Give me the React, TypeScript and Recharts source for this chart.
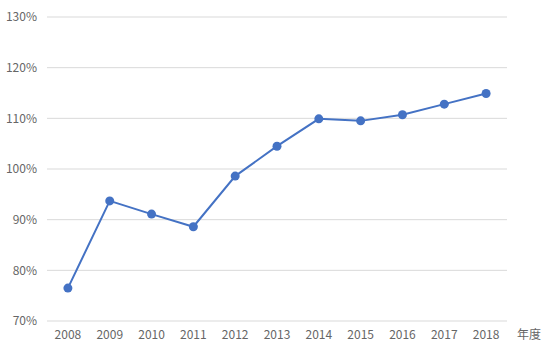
import { CartesianGrid, Label, Line, LineChart, XAxis, YAxis } from 'recharts'

const years = ['2008', '2009', '2010', '2011', '2012', '2013', '2014', '2015', '2016', '2017', '2018']
const ratio = [76.5, 93.7, 91.1, 88.6, 98.6, 104.5, 109.9, 109.5, 110.7, 112.8, 114.9]
const yTicks = [70, 80, 90, 100, 110, 120, 130]

const data = years.map((year, i) => ({ year, ratio: ratio[i] }))

const font = '"Noto Sans CJK JP", "Noto Sans", sans-serif'
const tickStyle = { fill: '#666666', fontSize: 12, fontFamily: font }

const App = () => {
  return (
    <div style={{ position: 'absolute', left: 0, top: 0, background: '#fff' }}>
      <LineChart
        width={550}
        height={353}
        data={data}
        margin={{ top: 17, right: 43, bottom: 12, left: 0 }}
      >
        <CartesianGrid vertical={false} stroke="#d9d9d9" />
        <XAxis
          dataKey="year"
          scale="band"
          axisLine={false}
          tickLine={false}
          tickSize={0}
          tickMargin={9}
          height={20}
          tick={tickStyle}
        >
          <Label
            value="年度"
            position="right"
            offset={10}
            style={{ fill: '#666666', fontSize: 12, fontFamily: font }}
            dy={4}
          />
        </XAxis>
        <YAxis
          domain={[70, 130]}
          ticks={yTicks}
          tickFormatter={(v) => `${v}%`}
          axisLine={false}
          tickLine={false}
          tickSize={0}
          tickMargin={10}
          width={47}
          tick={tickStyle}
        />
        <Line
          dataKey="ratio"
          type="linear"
          stroke="#4472C4"
          strokeWidth={2}
          dot={{ r: 4.5, fill: '#4472C4', stroke: '#4472C4', strokeWidth: 0 }}
          isAnimationActive={false}
        />
      </LineChart>
    </div>
  )
}

export default App
